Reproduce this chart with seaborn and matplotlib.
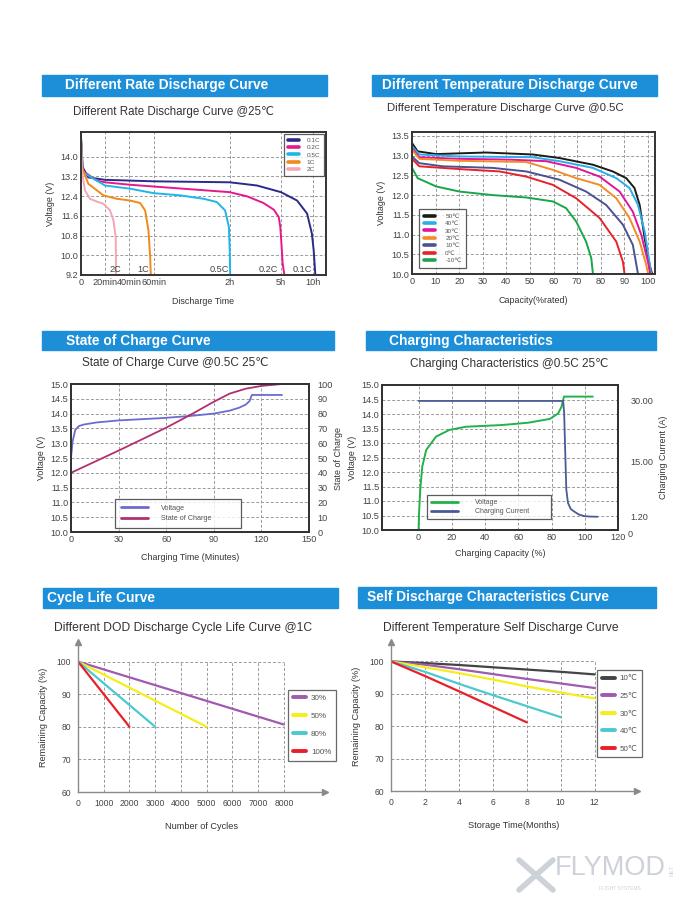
import numpy as np
import pandas as pd
import matplotlib
matplotlib.use('Agg')
import matplotlib.pyplot as plt
import seaborn as sns
from matplotlib.patches import Rectangle
from matplotlib.lines import Line2D

sns.set_style('white')
plt.rcParams['font.family'] = ['Liberation Sans', 'DejaVu Sans']
plt.rcParams['axes.unicode_minus'] = False

# ---------------- data ----------------
# Panel 1: different rate discharge (time in hours, voltage V)
rate_labels = ['0.1C', '0.2C', '0.5C', '1C', '2C']
rate_colors = ['#2b2a8a', '#e6198c', '#1fb5e8', '#f08a1c', '#f4a6b4']
t_01 = [0, 0.023, 0.1, 0.33, 1.0, 2.0, 3.6, 5.0, 7.5, 9.06, 9.8, 10.08, 10.34]
v_01 = [14.8, 13.57, 13.16, 13.06, 13.0, 12.96, 12.83, 12.56, 12.22, 11.69, 10.88, 10.2, 9.2]
t_02 = [0, 0.023, 0.216, 0.33, 0.676, 2.0, 3.02, 3.98, 4.58, 4.87, 4.96, 5.07, 5.26, 5.53]
v_02 = [14.7, 13.43, 13.03, 12.96, 12.86, 12.56, 12.39, 12.12, 11.85, 11.55, 11.15, 10.48, 9.67, 9.2]
t_05 = [0, 0.023, 0.33, 0.676, 1.0, 1.35, 1.66, 1.83, 1.94, 1.99, 2.01, 2.03]
v_05 = [14.7, 13.37, 12.83, 12.7, 12.52, 12.43, 12.29, 12.16, 11.82, 11.15, 10.07, 9.2]
t_1 = [0, 0.012, 0.101, 0.308, 0.492, 0.676, 0.814, 0.883, 0.929, 0.952, 0.961]
v_1 = [14.7, 13.57, 12.9, 12.43, 12.29, 12.22, 12.12, 11.82, 11.01, 9.94, 9.2]
t_2 = [0, 0.012, 0.055, 0.124, 0.216, 0.308, 0.4, 0.446, 0.478, 0.483]
v_2 = [14.7, 13.43, 12.63, 12.29, 12.18, 12.09, 11.82, 11.42, 10.75, 9.2]
rate_t = [t_01, t_02, t_05, t_1, t_2]
rate_v = [v_01, v_02, v_05, v_1, v_2]
rate_ticks_h = [0, 1/3, 2/3, 1, 2, 5, 10]
rate_tick_labels = ['0', '20min', '40min', '60min', '2h', '5h', '10h']
rate_note_h = [8.27, 4.28, 1.86, 0.86, 0.47]
volt_ticks_1 = [9.2, 10.0, 10.8, 11.6, 12.4, 13.2, 14.0]

# Panel 2: different temperature discharge (capacity %, voltage)
temp_labels = ['50℃', '40℃', '30℃', '20℃', '10℃', '0℃', '-10℃']
temp_colors = ['#1a1a1a', '#2aaee8', '#e0159a', '#f28c28', '#4a5290', '#e8222a', '#19a54a']
c_50 = [0, 2.4, 10.2, 31.4, 51.2, 62.5, 76.7, 85.1, 90.8, 94.3, 96.5, 98.6, 100.7, 101.8]
u_50 = [13.32, 13.11, 13.04, 13.08, 13.03, 12.94, 12.77, 12.6, 12.43, 12.18, 11.75, 10.91, 10.23, 10.0]
c_40 = [0, 3.1, 20.1, 51.2, 62.5, 76.7, 86.6, 92.2, 95.8, 98.6, 100.4, 101.4]
u_40 = [13.24, 13.03, 12.98, 12.96, 12.86, 12.69, 12.43, 12.18, 11.75, 11.08, 10.4, 10.0]
c_30 = [0, 3.1, 20.1, 41.3, 56.9, 69.6, 79.5, 88.0, 93.6, 97.2, 100, 101]
u_30 = [13.19, 12.96, 12.92, 12.9, 12.86, 12.69, 12.47, 12.09, 11.58, 10.99, 10.31, 10.0]
c_20 = [0, 3.1, 20.1, 48.4, 59.7, 69.6, 79.5, 86.6, 92.2, 96.5, 99.3, 100.1]
u_20 = [13.15, 12.92, 12.87, 12.84, 12.64, 12.43, 12.26, 11.92, 11.42, 10.82, 10.23, 10.0]
c_10 = [0, 3.1, 13, 34.2, 48.4, 62.5, 73.8, 82.3, 89.4, 93.6, 95.8]
u_10 = [12.98, 12.81, 12.73, 12.69, 12.6, 12.39, 12.09, 11.75, 11.25, 10.74, 10.0]
c_0 = [0, 3.1, 20.1, 37.1, 48.4, 59.7, 69.6, 79.5, 86.6, 89.4, 90.1]
u_0 = [12.92, 12.73, 12.66, 12.6, 12.47, 12.26, 11.92, 11.42, 10.82, 10.31, 10.0]
c_m10 = [0, 2.4, 10.2, 20.1, 34.2, 48.4, 59.7, 65.3, 69.6, 73.8, 76, 76.7]
u_m10 = [12.69, 12.43, 12.22, 12.09, 12.0, 11.94, 11.84, 11.67, 11.33, 10.82, 10.4, 10.0]
temp_c = [c_50, c_40, c_30, c_20, c_10, c_0, c_m10]
temp_u = [u_50, u_40, u_30, u_20, u_10, u_0, u_m10]

# Panel 3: state of charge
soc_time_v = [0, 1.0, 2.7, 5.0, 8, 16, 30, 58, 75, 90, 100, 106, 110, 112.5, 114, 133]
soc_volt = [12.5, 13.06, 13.45, 13.58, 13.63, 13.7, 13.77, 13.85, 13.92, 14.0, 14.1, 14.2, 14.3, 14.42, 14.63, 14.63]
soc_time_s = [0, 30, 60, 75, 90, 100, 110, 120, 133]
soc_pct = [40, 55, 70.5, 79, 88, 93.5, 96.8, 98.7, 100]

# Panel 4: charging characteristics
chg_cap_v = [0, 0.3, 1.0, 2.2, 4.6, 10.5, 18.5, 28.4, 50.2, 66, 79, 84, 86, 87.5, 104.8]
chg_volt = [10.0, 10.6, 11.38, 12.18, 12.76, 13.22, 13.45, 13.56, 13.62, 13.70, 13.83, 14.02, 14.25, 14.6, 14.6]
chg_cap_i = [0, 87.0, 87.6, 88.2, 88.9, 89.9, 91.5, 93.8, 96.5, 99.8, 103, 107.7]
chg_curr = [30, 30, 27, 18, 8, 4.7, 3.2, 2.5, 1.8, 1.4, 1.3, 1.25]
curr_ticks = [1.2, 15, 30]
curr_tick_labels = ['1.20', '15.00', '30.00']

# Panel 5: cycle life
dod_labels = ['30%', '50%', '80%', '100%']
dod_colors = ['#a05ab0', '#f5ee1a', '#4cc8d0', '#e8202a']
dod_cycles = [[0, 8000], [0, 5000], [0, 3000], [0, 2000]]
dod_cap = [[100, 80.7], [100, 80], [100, 80], [100, 80]]

# Panel 6: self discharge
sd_labels = ['10℃', '25℃', '30℃', '40℃', '50℃']
sd_colors = ['#444444', '#a05ab0', '#f5ee1a', '#4cc8d0', '#e8202a']
sd_months = [[0, 2, 4, 6, 8, 10, 12], [0, 2, 4, 6, 8, 10, 12], [0, 2, 4, 6, 8, 10, 12],
             [0, 2, 4, 6, 8, 10], [0, 2, 4, 6, 8]]
sd_cap = [[100, 99.5, 98.9, 98.2, 97.5, 96.8, 96.0],
          [100, 99.0, 97.6, 96.1, 94.6, 93.2, 91.8],
          [100, 98.2, 96.4, 94.4, 92.3, 90.4, 88.6],
          [100, 96.8, 93.1, 89.6, 86.2, 82.8],
          [100, 95.5, 90.8, 86.0, 81.2]]

# ---------------- figure ----------------
W, H = 692, 900
fig = plt.figure(figsize=(W / 100, H / 100), dpi=100)
fig.patch.set_facecolor('white')

BLUE = '#1c8fd8'
GRID = dict(ls=(0, (3, 2)), color='#9a9a9a', lw=0.7)
TXT = '#333333'
TICK = 6.6


def box(x0, y0, x1, y1):
    return [x0 / W, 1 - y1 / H, (x1 - x0) / W, (y1 - y0) / H]


def banner(x0, y0, x1, y1, tx, text, size=9.9):
    fig.patches.append(Rectangle((x0 / W, 1 - y1 / H), (x1 - x0) / W, (y1 - y0) / H,
                                 transform=fig.transFigure, color=BLUE, zorder=0))
    fig.text(tx / W, 1 - (y0 + y1) / 2 / H, text, color='white', fontsize=size,
             fontweight='bold', va='center', ha='left')


def subtitle(x, y, text, size):
    fig.text(x / W, 1 - y / H, text, color=TXT, fontsize=size, va='center', ha='left')


def frame(ax):
    for s in ax.spines.values():
        s.set_color('#333333')
        s.set_linewidth(1.4)
    ax.tick_params(labelsize=TICK, colors='#444444', length=0, pad=2)
    ax.grid(True, **GRID)


def style_legend(leg, lw=2.6):
    leg.get_frame().set_edgecolor('#333333')
    leg.get_frame().set_linewidth(0.9)
    leg.get_frame().set_boxstyle('square', pad=0)
    for h in leg.legend_handles:
        h.set_linewidth(lw)
    for t in leg.get_texts():
        t.set_color('#555555')


# ---- Panel 1 ----
banner(42, 75, 327, 96, 65, 'Different Rate Discharge Curve')
subtitle(73, 112, 'Different Rate Discharge Curve @25℃', 8.3)
ax1 = fig.add_axes(box(81, 132, 326, 275))
H_tab = np.array([0, 1/3, 2/3, 1, 2, 5, 10, 12])
P_tab = np.array([0, 1, 2, 3, 6.14, 8.26, 9.59, 10.12])
fwd = lambda x: np.interp(x, H_tab, P_tab)
inv = lambda p: np.interp(p, P_tab, H_tab)
ax1.set_xscale('function', functions=(fwd, inv))
for t, v, c, lab in zip(rate_t, rate_v, rate_colors, rate_labels):
    sns.lineplot(x=t, y=v, ax=ax1, color=c, lw=1.4, label=lab, sort=False, estimator=None)
ax1.set_xlim(0, 12)
ax1.set_ylim(9.2, 15.0)
ax1.set_xticks(rate_ticks_h)
ax1.set_xticklabels(rate_tick_labels)
ax1.set_yticks(volt_ticks_1)
ax1.set_yticklabels([f'{v:.1f}' for v in volt_ticks_1])
ax1.xaxis.set_minor_locator(matplotlib.ticker.NullLocator())
frame(ax1)
for h, lab in zip(rate_note_h, rate_labels):
    ax1.text(h, 9.25, lab, fontsize=6.6, color='#444444', ha='center', va='bottom')
ax1.set_xlabel('Discharge Time', fontsize=6.4, color=TXT, labelpad=7)
ax1.set_ylabel('Voltage (V)', fontsize=6.4, color=TXT, labelpad=4)
leg = ax1.legend(loc='upper right', fontsize=4.6, frameon=True, fancybox=False,
                 borderaxespad=0.25, handlelength=1.8, labelspacing=0.3, handletextpad=1.2,
                 borderpad=0.6)
style_legend(leg)

# ---- Panel 2 ----
banner(372, 75, 657, 96, 382, 'Different Temperature Discharge Curve')
subtitle(387, 108, 'Different Temperature Discharge Curve @0.5C', 8.2)
ax2 = fig.add_axes(box(412, 132, 655, 274))
for cc, uu, col, lab in zip(temp_c, temp_u, temp_colors, temp_labels):
    sns.lineplot(x=cc, y=uu, ax=ax2, color=col, lw=1.4, label=lab, sort=False, estimator=None)
ax2.set_xlim(0, 103)
ax2.set_ylim(10.0, 13.6)
ax2.set_xticks(np.arange(0, 101, 10))
ax2.set_yticks(np.arange(10.0, 13.51, 0.5))
ax2.set_yticklabels([f'{v:.1f}' for v in np.arange(10.0, 13.51, 0.5)])
frame(ax2)
ax2.set_xlabel('Capacity(%rated)', fontsize=6.4, color=TXT, labelpad=7)
ax2.set_ylabel('Voltage (V)', fontsize=6.4, color=TXT, labelpad=4)
leg = ax2.legend(loc='lower left', bbox_to_anchor=(0.029, 0.045), fontsize=4.6, frameon=True,
                 fancybox=False, handlelength=1.8, labelspacing=0.3, handletextpad=1.6,
                 borderpad=0.7, borderaxespad=0)
style_legend(leg)

# ---- Panel 3 ----
banner(42, 331, 334, 350, 66, 'State of Charge Curve')
subtitle(82, 363, 'State of Charge Curve @0.5C 25℃', 8.5)
ax3 = fig.add_axes(box(71, 384, 309, 532))
sns.lineplot(x=soc_time_v, y=soc_volt, ax=ax3, color='#6b6bd0', lw=1.3, label='Voltage',
             sort=False, estimator=None)
ax3b = ax3.twinx()
sns.lineplot(x=soc_time_s, y=soc_pct, ax=ax3b, color='#b03070', lw=1.3, label='State of Charge',
             sort=False, estimator=None)
ax3.set_xlim(0, 150)
ax3.set_ylim(10, 15)
ax3b.set_ylim(0, 100)
ax3.set_xticks(np.arange(0, 151, 30))
ax3.set_yticks(np.arange(10, 15.01, 0.5))
ax3.set_yticklabels([f'{v:.1f}' for v in np.arange(10, 15.01, 0.5)])
ax3b.set_yticks(np.arange(0, 101, 10))
frame(ax3)
ax3b.tick_params(labelsize=TICK, colors='#444444', length=0, pad=6)
for s in ax3b.spines.values():
    s.set_color('#333333')
    s.set_linewidth(1.4)
ax3.set_xlabel('Charging Time (Minutes)', fontsize=6.4, color=TXT, labelpad=7)
ax3.set_ylabel('Voltage (V)', fontsize=6.4, color=TXT, labelpad=3)
ax3b.set_ylabel('State of Charge', fontsize=6.4, color=TXT, labelpad=1)
ax3.get_legend().remove()
h1, l1 = ax3.get_legend_handles_labels()
h2, l2 = ax3b.get_legend_handles_labels()
leg = ax3b.legend(h1 + h2, l1 + l2, loc='lower left', bbox_to_anchor=(0.185, 0.027, 0.53, 0.21),
                  mode='expand', fontsize=5.2, frameon=True, fancybox=False, handlelength=3.7,
                  labelspacing=0.45, handletextpad=1.8, borderpad=0.8, borderaxespad=0)
style_legend(leg, lw=2.0)
leg.get_frame().set_facecolor('white')

# ---- Panel 4 ----
banner(366, 331, 656, 350, 389, 'Charging Characteristics')
subtitle(410, 364, 'Charging Characteristics @0.5C 25℃', 8.5)
ax4 = fig.add_axes(box(382, 385, 618, 530))
sns.lineplot(x=chg_cap_v, y=chg_volt, ax=ax4, color='#22b14c', lw=1.4, label='Voltage',
             sort=False, estimator=None)
ax4b = ax4.twinx()
sns.lineplot(x=chg_cap_i, y=chg_curr, ax=ax4b, color='#4a5a96', lw=1.3, label='Charging Current',
             sort=False, estimator=None)
ax4.set_xlim(-22, 120)
ax4.set_ylim(10, 15)
ax4b.set_ylim(-2.04, 33.96)
ax4.set_xticks(np.arange(0, 121, 20))
ax4.set_yticks(np.arange(10, 15.01, 0.5))
ax4.set_yticklabels([f'{v:.1f}' for v in np.arange(10, 15.01, 0.5)])
ax4b.set_yticks(curr_ticks)
ax4b.set_yticklabels(curr_tick_labels)
frame(ax4)
ax4b.tick_params(labelsize=TICK, colors='#444444', length=0, pad=9)
for s in ax4b.spines.values():
    s.set_color('#333333')
    s.set_linewidth(1.4)
ax4b.text(1.04, -0.03, '0', transform=ax4b.transAxes, fontsize=TICK, color='#444444',
          ha='left', va='center')
ax4.set_xlabel('Charging Capacity (%)', fontsize=6.4, color=TXT, labelpad=5)
ax4.set_ylabel('Voltage (V)', fontsize=6.4, color=TXT, labelpad=3)
ax4b.set_ylabel('Charging Current (A)', fontsize=6.4, color=TXT, labelpad=4)
ax4.get_legend().remove()
h1, l1 = ax4.get_legend_handles_labels()
h2, l2 = ax4b.get_legend_handles_labels()
leg = ax4b.legend(h1 + h2, l1 + l2, loc='lower left', bbox_to_anchor=(0.19, 0.076, 0.525, 0.159),
                  mode='expand', fontsize=5.0, frameon=True, fancybox=False, handlelength=4.0,
                  labelspacing=0.3, handletextpad=2.4, borderpad=0.55, borderaxespad=0)
style_legend(leg, lw=2.0)
leg.get_frame().set_facecolor('white')


# ---- Panels 5 and 6 (open axes with arrows) ----
def open_axes(ax, xmax_grid, xstep, xlim):
    for s in ['top', 'right']:
        ax.spines[s].set_visible(False)
    for s in ['left', 'bottom']:
        ax.spines[s].set_color('#8a8a8a')
        ax.spines[s].set_linewidth(1.0)
    ax.plot(1, 0, '>', color='#8a8a8a', ms=4, transform=ax.transAxes, clip_on=False)
    ax.plot(0, 1, '^', color='#8a8a8a', ms=4, transform=ax.transAxes, clip_on=False)
    ax.set_xlim(0, xlim)
    ax.set_ylim(60, 106)
    ax.set_yticks([60, 70, 80, 90, 100])
    ax.set_xticks(np.arange(0, xmax_grid + 1e-9, xstep))
    ax.hlines([70, 80, 90, 100], 0, xmax_grid, **GRID, zorder=0)
    ax.vlines(np.arange(xstep, xmax_grid + 1e-9, xstep), 60, 100, **GRID, zorder=0)
    ax.tick_params(labelsize=6.2, colors='#444444', length=0, pad=5)


banner(43, 588, 338, 608, 47, 'Cycle Life Curve')
subtitle(54, 628, 'Different DOD Discharge Cycle Life Curve @1C', 8.7)
ax5 = fig.add_axes(box(78, 642, 325, 792))
for xx, yy, col, lab in zip(dod_cycles, dod_cap, dod_colors, dod_labels):
    sns.lineplot(x=xx, y=yy, ax=ax5, color=col, lw=1.6, label=lab, sort=False, estimator=None)
open_axes(ax5, 8000, 1000, 9600)
ax5.set_xlabel('Number of Cycles', fontsize=6.6, color=TXT, labelpad=10)
ax5.set_ylabel('Remaining Capacity (%)', fontsize=6.6, color=TXT, labelpad=6)
leg = ax5.legend(loc='lower left', bbox_to_anchor=(0.852, 0.21), fontsize=5.8, frameon=True,
                 fancybox=False, handlelength=1.6, labelspacing=1.27, handletextpad=0.6,
                 borderpad=0.6, borderaxespad=0)
style_legend(leg, lw=2.8)
leg.get_frame().set_edgecolor('#444444')

banner(358, 587, 656, 608, 367, 'Self Discharge Characteristics Curve')
subtitle(383, 628, 'Different Temperature Self Discharge Curve', 8.7)
ax6 = fig.add_axes(box(391, 642, 637, 791))
for xx, yy, col, lab in zip(sd_months, sd_cap, sd_colors, sd_labels):
    sns.lineplot(x=xx, y=yy, ax=ax6, color=col, lw=1.6, label=lab, sort=False, estimator=None)
open_axes(ax6, 12, 2, 14.5)
ax6.set_xlabel('Storage Time(Months)', fontsize=6.6, color=TXT, labelpad=10)
ax6.set_ylabel('Remaining Capacity (%)', fontsize=6.6, color=TXT, labelpad=6)
leg = ax6.legend(loc='lower left', bbox_to_anchor=(0.837, 0.225), fontsize=5.8, frameon=True,
                 fancybox=False, handlelength=1.6, labelspacing=1.23, handletextpad=0.6,
                 borderpad=0.6, borderaxespad=0)
style_legend(leg, lw=2.8)
leg.get_frame().set_edgecolor('#444444')

# ---- watermark ----
WM = '#cdd1d8'
fig.add_artist(Line2D([519 / W, 553 / W], [1 - 860 / H, 1 - 890 / H], transform=fig.transFigure,
                      color=WM, lw=4, solid_capstyle='round'))
fig.add_artist(Line2D([519 / W, 553 / W], [1 - 890 / H, 1 - 860 / H], transform=fig.transFigure,
                      color=WM, lw=4, solid_capstyle='round'))
fig.text(555 / W, 1 - 868 / H, 'FLYMOD', color=WM, fontsize=19.5, va='center', ha='left')
fig.text(620 / W, 1 - 889 / H, 'FLIGHT SYSTEMS', color=WM, fontsize=3.5, va='center', ha='center')
fig.text(672 / W, 1 - 870 / H, 'NET', color=WM, fontsize=4, va='center', ha='center', rotation=90)

fig.savefig('out.png', dpi=100, facecolor='white')
